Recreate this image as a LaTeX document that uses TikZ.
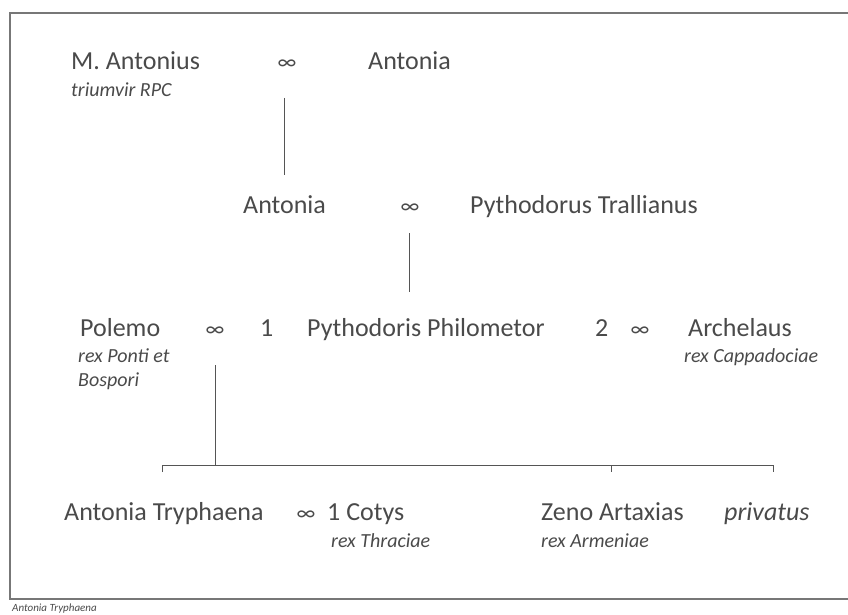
\documentclass[tikz,border=0pt]{standalone}
\usepackage{fontspec}
\setmainfont{Carlito}
\definecolor{ink}{HTML}{4A4A4A}
\definecolor{rule}{HTML}{555555}
\definecolor{frame}{HTML}{777777}
\begin{document}
\begin{tikzpicture}[x=1pt,y=-1pt]
        \tikzstyle{every node}+=[inner sep=0pt,anchor=base west,text=ink]
        \tikzstyle{person}=[font=\fontsize{26}{26}\selectfont]
        \tikzstyle{title}=[font=\fontsize{20}{20}\selectfont\itshape]
        \tikzstyle{wed}=[font=\fontsize{22}{22}\selectfont,anchor=base]
        \tikzstyle{line}=[draw=rule,line width=1pt]
        \useasboundingbox (0,0) rectangle (848,615);
        \draw [frame,line width=1.2pt] (848,13) -- (10,13) -- (10,599) -- (848,599);
        \node [font=\fontsize{11}{11}\selectfont\itshape] (caption) at (12,611) {Antonia Tryphaena};
        % first generation
        \node [person] (antonius) at (71,70) {M. Antonius};
        \node [title] (triumvir) at (71,97) {triumvir RPC};
        \node [wed] (wed1) at (287,70) {∞};
        \node [person] (antonia1) at (368,70) {Antonia};
        % second generation
        \node [person] (antonia2) at (243,213) {Antonia};
        \node [wed] (wed2) at (410,213) {∞};
        \node [person] (pythodorus) at (470,213) {Pythodorus Trallianus};
        % third generation
        \node [person] (polemo) at (80,336) {Polemo};
        \node [title] (ponti) at (78,362) {rex Ponti et};
        \node [title] (bospori) at (78,386) {Bospori};
        \node [wed] (wed3) at (215,336) {∞};
        \node [person] (first) at (260,336) {1};
        \node [person] (pythodoris) at (307,336) {Pythodoris Philometor};
        \node [person] (second) at (595,336) {2};
        \node [wed] (wed4) at (640,336) {∞};
        \node [person] (archelaus) at (688,336) {Archelaus};
        \node [title] (cappadociae) at (684,362) {rex Cappadociae};
        % fourth generation
        \node [person] (tryphaena) at (64,520) {Antonia Tryphaena};
        \node [wed] (wed5) at (306,520) {∞};
        \node [person] (cotys) at (327,520) {1 Cotys};
        \node [title] (thraciae) at (331,547) {rex Thraciae};
        \node [person] (zeno) at (541,520) {Zeno Artaxias};
        \node [title] (armeniae) at (541,547) {rex Armeniae};
        \node [person,font=\fontsize{26}{26}\selectfont\itshape] (privatus) at (724,520) {privatus};
        % descent lines
        \coordinate (d1) at (284,98);
        \coordinate (e1) at (284,175);
        \coordinate (d2) at (409,233);
        \coordinate (e2) at (409,292);
        \coordinate (d3) at (215,365);
        \coordinate (bl) at (162,465);
        \coordinate (bm) at (611,465);
        \coordinate (br) at (773,465);
        \draw [line] (d1) -- (e1);
        \draw [line] (d2) -- (e2);
        \draw [line] (d3) -- (d3 |- bl);
        \draw [line] ([yshift=-7pt]bl) -- (bl) -- (br) -- ([yshift=-7pt]br);
        \draw [line] (bm) -- ([yshift=-7pt]bm);
\end{tikzpicture}
\end{document}
